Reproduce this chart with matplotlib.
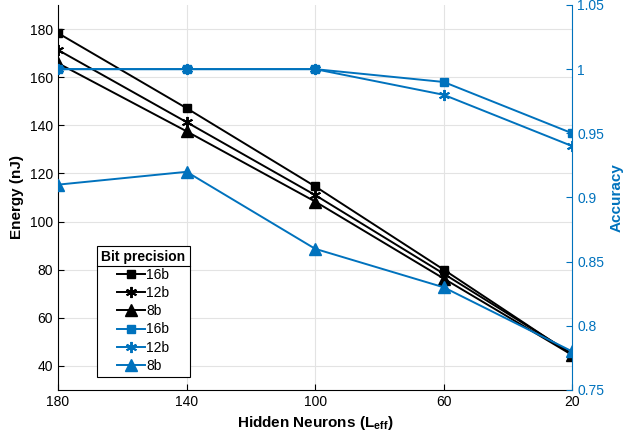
import matplotlib.pyplot as plt
from matplotlib.lines import Line2D

plt.rcParams['font.family'] = ['Liberation Sans', 'DejaVu Sans']

neurons = [180, 140, 100, 60, 20]

energy_16b = [178.3, 147.1, 114.6, 80.0, 44.6]
energy_12b = [171.3, 141.3, 111.0, 78.3, 45.0]
energy_8b = [165.8, 137.5, 108.3, 76.3, 44.5]

acc_16b = [1.0, 1.0, 1.0, 0.99, 0.95]
acc_12b = [1.0, 1.0, 1.0, 0.98, 0.94]
acc_8b = [0.91, 0.92, 0.86, 0.83, 0.78]

labels = ['16b', '12b', '8b']
blue = '#0072BD'

# marker styles: square, asterisk, triangle
styles = [dict(marker='s', ms=6), dict(marker=(6, 2, 0), ms=8, mew=1.4),
          dict(marker='^', ms=8)]

fig = plt.figure(figsize=(6.38, 4.37), dpi=100)
ax = fig.add_axes([0.091, 0.1076, 0.806, 0.881])

for y, st in zip([energy_16b, energy_12b, energy_8b], styles):
    ax.plot(neurons, y, color='k', lw=1.4, **st)

ax.set_xlim(180, 20)
ax.set_xticks(neurons)
ax.set_ylim(30, 190)
ax.set_yticks(range(40, 190, 20))
ax.grid(True, color='#e3e3e3', lw=0.8)
ax.set_axisbelow(True)
ax.tick_params(labelsize=10, direction='in', length=4)
ax.set_xlabel('Hidden Neurons (L$_{\\mathregular{eff}}$)', fontweight='bold', fontsize=11)
ax.set_ylabel('Energy (nJ)', fontweight='bold', fontsize=11)
for s in ['top', 'right']:
    ax.spines[s].set_visible(False)

ax2 = ax.twinx()
for y, st in zip([acc_16b, acc_12b, acc_8b], styles):
    ax2.plot(neurons, y, color=blue, lw=1.4, **st)
ax2.set_ylim(0.75, 1.05)
ax2.set_yticks([0.75, 0.8, 0.85, 0.9, 0.95, 1.0, 1.05])
ax2.set_yticklabels(['0.75', '0.8', '0.85', '0.9', '0.95', '1', '1.05'])
ax2.tick_params(axis='y', colors=blue, labelsize=10, direction='in', length=4)
ax2.spines['right'].set_color(blue)
ax2.spines['top'].set_visible(False)
ax2.spines['left'].set_visible(False)
ax2.spines['bottom'].set_visible(False)
ax2.set_ylabel('Accuracy', color=blue, fontweight='bold', fontsize=11)

handles = [Line2D([], [], color='k', lw=1.4, **st) for st in styles]
handles += [Line2D([], [], color=blue, lw=1.4, **st) for st in styles]

leg = ax2.legend(handles, labels + labels, title='Bit precision',
                 loc='lower left', bbox_to_anchor=(0.076, 0.034),
                 borderaxespad=0, fontsize=10, handlelength=2.0,
                 handletextpad=0.1, labelspacing=0.3, borderpad=0.3,
                 fancybox=False, edgecolor='k', framealpha=1)
leg.get_title().set_fontweight('bold')
leg.get_title().set_fontsize(10)
leg.get_frame().set_linewidth(0.8)

# separator line below legend title
fig.canvas.draw()
fb = leg.get_frame().get_window_extent()
tb = leg.get_title().get_window_extent()
ysep = tb.y0 - 2
fig.add_artist(Line2D([fb.x0 / fig.bbox.width, fb.x1 / fig.bbox.width],
                      [ysep / fig.bbox.height, ysep / fig.bbox.height],
                      color='k', lw=0.8))

fig.savefig('out.png', dpi=100)
